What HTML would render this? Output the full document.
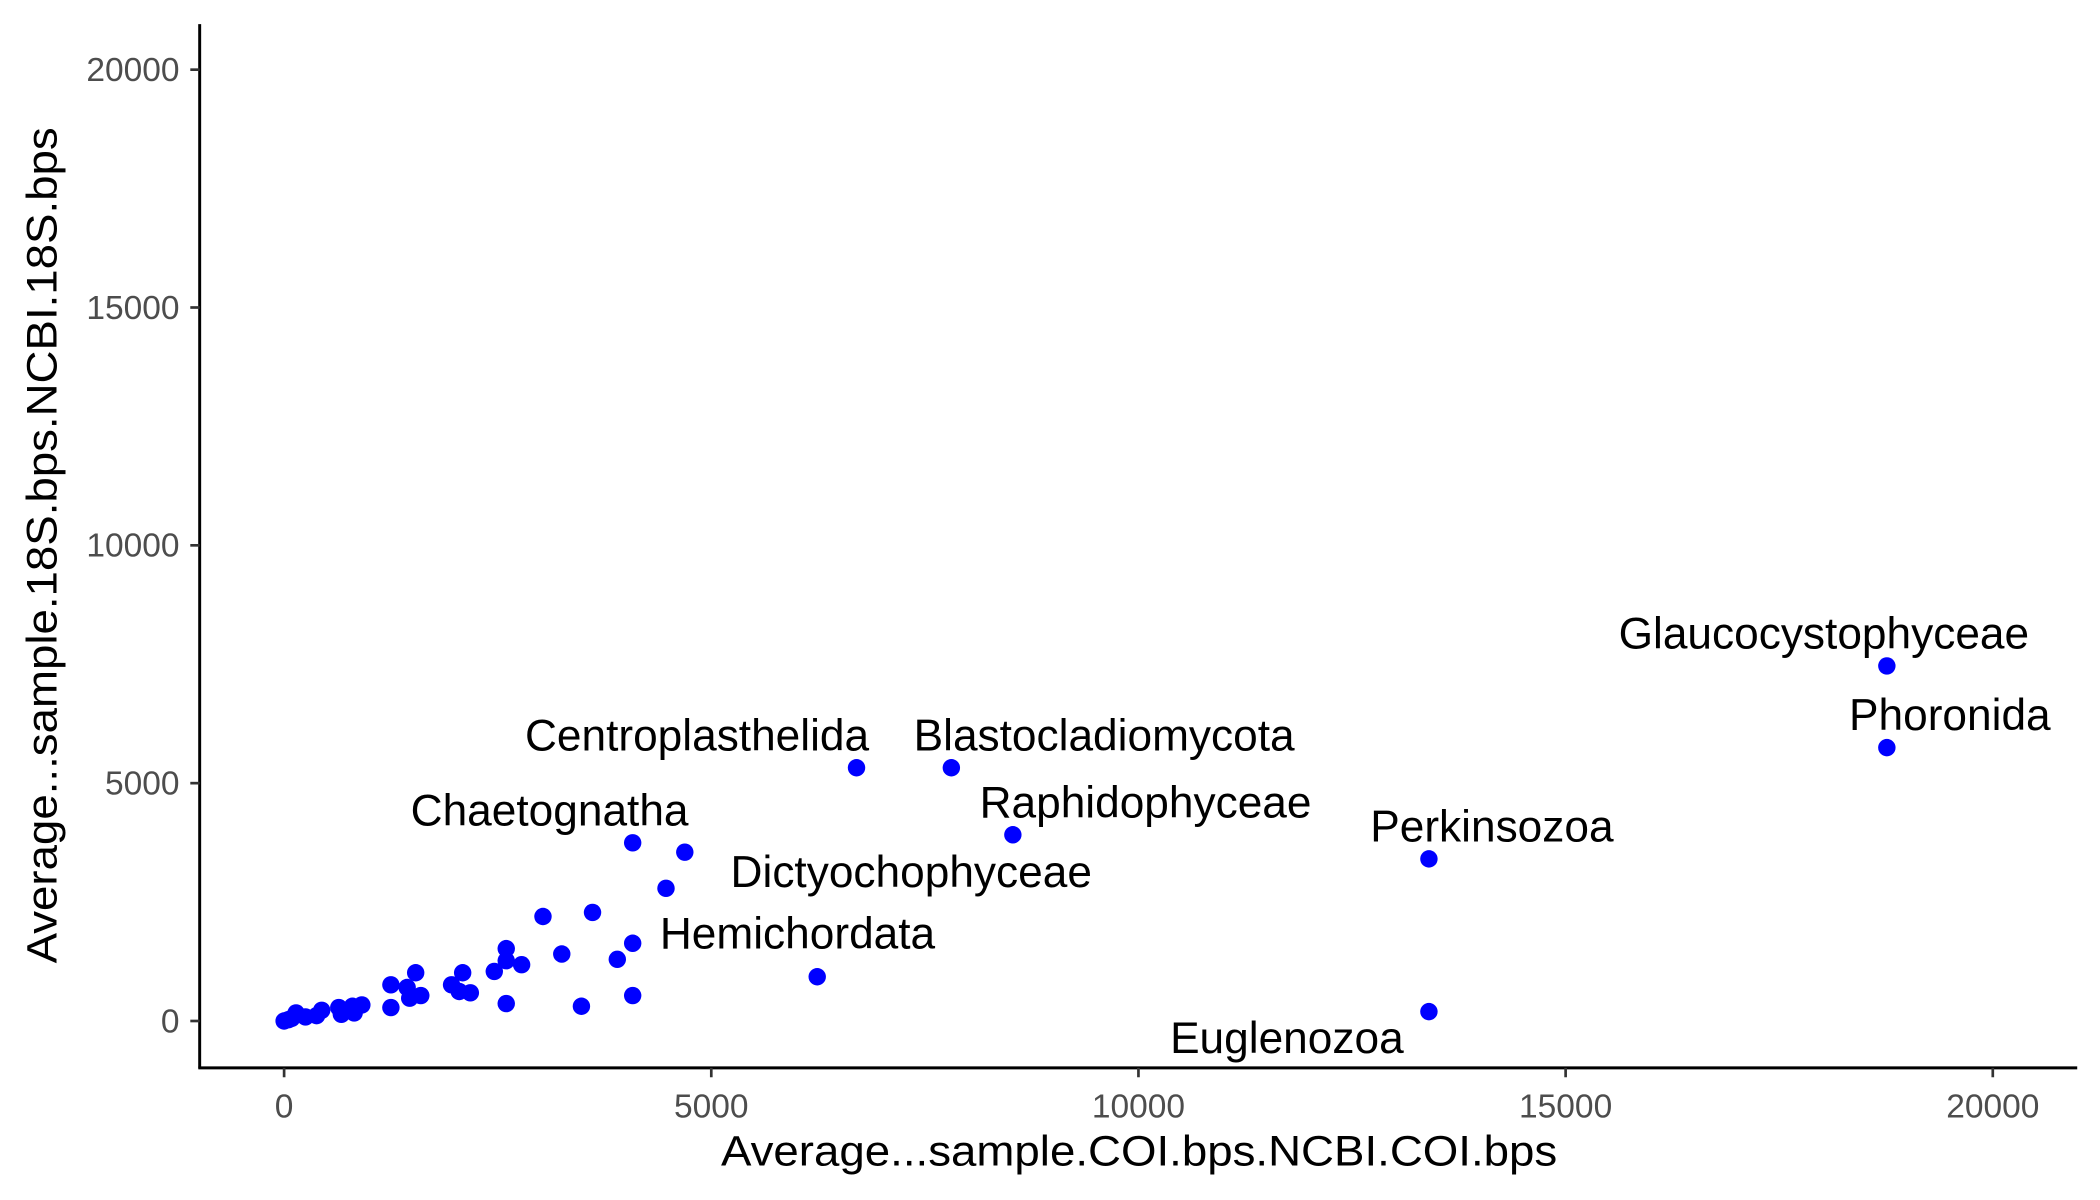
<!DOCTYPE html>
<html><head><meta charset="utf-8"><style>
html,body{margin:0;padding:0;background:#fff;}
svg{display:block;font-family:"Liberation Sans",Arial,sans-serif;}
</style></head><body>
<svg id="chart" width="2100" height="1200" viewBox="0 0 1567 895.6" preserveAspectRatio="none" xmlns="http://www.w3.org/2000/svg">
<g id="axes"></g>
<g id="points"></g>
<g id="labels"></g>
<text x="850" y="870" text-anchor="middle" font-size="32" textLength="624" lengthAdjust="spacingAndGlyphs" fill="#000">Average...sample.COI.bps.NCBI.COI.bps</text>
<text transform="translate(42,407) rotate(-90)" text-anchor="middle" font-size="32" textLength="624" lengthAdjust="spacingAndGlyphs" fill="#000">Average...sample.18S.bps.NCBI.18S.bps</text>
</svg>
<script>
const xValues=[18760,18760,6700,7810,8530,13400,4080,4690,4470,4080,6240,13400,3030,3610,3250,3900,4080,3480,2600,2600,2780,2460,2600,2090,1960,2050,2180,1540,1250,1440,1470,1600,1250,910,800,640,820,670,440,380,250,140,90,0,50];
const yValues=[7465,5747,5324,5324,3915,3408,3746,3549,2789,1634,930,197,2197,2282,1408,1296,535,310,1521,1268,1183,1042,366,1014,761,620,592,1014,761,704,479,535,282,338,310,282,169,141,225,113,85,169,56,0,28];
const labelNames=["Glaucocystophyceae","Phoronida","Centroplasthelida","Blastocladiomycota","Raphidophyceae","Perkinsozoa","Chaetognatha","Dictyochophyceae","Hemichordata","Euglenozoa"];
const labelIndex=[0,1,2,3,4,5,6,8,9,11];
const xTicks=[0,5000,10000,15000,20000];
const yTicks=[0,5000,10000,15000,20000];
// styling offsets for label placement (display px)
const labelDx=[-47,47,-119,114,99,47,-62,183,123,-106];
const labelDy=[-13,-13,-13,-13,-13,-13,-13,-1,4,31];

const NS="http://www.w3.org/2000/svg";
const sx=v=>212+v*(1487-212)/20000;
const sy=v=>762-v*(762-52)/20000;
function mk(tag,attrs,parent){const e=document.createElementNS(NS,tag);for(const k in attrs)e.setAttribute(k,attrs[k]);parent.appendChild(e);return e;}
const axes=document.getElementById('axes');
let l=mk('line',{x1:149,y1:18,x2:149,y2:797.5,stroke:'#000','stroke-width':2.2},axes);


l=mk('line',{x1:148,y1:797,x2:1550,y2:797,stroke:'#000','stroke-width':2.2},axes);


xTicks.forEach(t=>{
  const tk=mk('line',{x1:sx(t),y1:797,x2:sx(t),y2:804,stroke:'#333','stroke-width':2},axes);
  
  
  const tx=mk('text',{x:sx(t),y:834,'text-anchor':'middle','font-size':25,fill:'#4d4d4d'},axes);
  tx.textContent=t;
  
  
});
yTicks.forEach(t=>{
  const tk=mk('line',{x1:142,y1:sy(t),x2:149,y2:sy(t),stroke:'#333','stroke-width':2},axes);
  
  
  const tx=mk('text',{x:134,y:sy(t)+8.5,'text-anchor':'end','font-size':25,fill:'#4d4d4d'},axes);
  tx.textContent=t;
  
  
});
const pts=document.getElementById('points');
xValues.forEach((x,i)=>{
  const c=mk('circle',{cx:sx(x),cy:sy(yValues[i]),r:6.5,fill:'#0000ff'},pts);
  
  
});
const lg=document.getElementById('labels');
labelNames.forEach((n,k)=>{
  const i=labelIndex[k];
  const t=mk('text',{x:sx(xValues[i])+labelDx[k],y:sy(yValues[i])+labelDy[k],'text-anchor':'middle','font-size':33,fill:'#000'},lg);
  t.textContent=n;
  
  
});
</script>
</body></html>
